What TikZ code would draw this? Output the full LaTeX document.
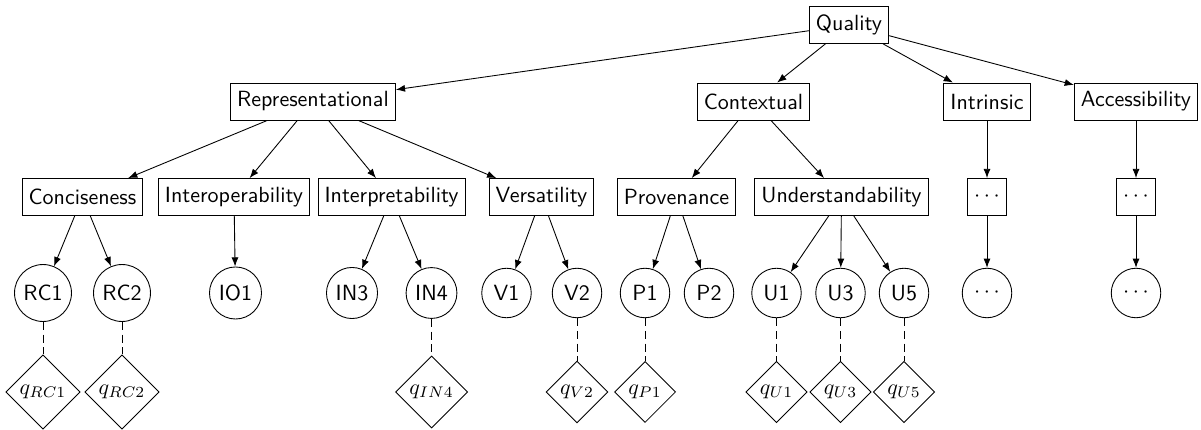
\documentclass[tikz,border=0pt]{standalone}
\usetikzlibrary{shapes.geometric,arrows.meta}
\begin{document}
\begin{tikzpicture}[x=0.4545pt, y=-0.4545pt, font=\sffamily,
  catbox/.style={draw, rectangle, minimum height=16.8pt, inner sep=3pt},
  metric/.style={draw, circle, inner sep=2.5pt, minimum size=22.5pt},
  query/.style={draw, diamond, aspect=1, inner sep=1.6pt},
  arr/.style={-{Latex[length=4.2pt,width=3.2pt]}},
  link/.style={dash pattern=on 3.6pt off 2.2pt}]
\useasboundingbox (0,0) rectangle (1201,430);

% root and dimensions
\node[catbox] (quality) at (849,25) {Quality};
\node[catbox] (repr) at (313,101.5) {Representational};
\node[catbox] (ctx)  at (753.5,101.5) {Contextual};
\node[catbox] (intr) at (987,101.5) {Intrinsic};
\node[catbox] (acc)  at (1136,101.5) {Accessibility};

% categories
\node[catbox] (conc) at (82.5,197) {Conciseness};
\node[catbox] (inop) at (234,197) {Interoperability};
\node[catbox] (inpr) at (391.5,197) {Interpretability};
\node[catbox] (vers) at (541.5,197) {Versatility};
\node[catbox] (prov) at (676.5,197) {Provenance};
\node[catbox] (und)  at (841.5,197) {Understandability};
\node[catbox] (intrdots) at (987,197) {$\cdots$};
\node[catbox] (accdots)  at (1136,197) {$\cdots$};

% metrics
\node[metric] (rc1) at (43,293) {RC1};
\node[metric] (rc2) at (122,293) {RC2};
\node[metric] (io1) at (235.5,293) {IO1};
\node[metric] (in3) at (352,293) {IN3};
\node[metric] (in4) at (431.5,293) {IN4};
\node[metric] (v1)  at (506.5,293) {V1};
\node[metric] (v2)  at (577,293) {V2};
\node[metric] (p1)  at (645,293) {P1};
\node[metric] (p2)  at (709,293) {P2};
\node[metric] (u1)  at (776.5,293) {U1};
\node[metric] (u3)  at (840.5,293) {U3};
\node[metric] (u5)  at (904,293) {U5};
\node[metric] (intrm) at (987,293) {$\cdots$};
\node[metric] (accm)  at (1136,293) {$\cdots$};

% queries
\node[query] (qrc1) at (43,392) {$q_{RC1}$};
\node[query] (qrc2) at (122,392) {$q_{RC2}$};
\node[query] (qin4) at (431.5,392) {$q_{IN4}$};
\node[query] (qv2)  at (577,392) {$q_{V2}$};
\node[query] (qp1)  at (645,392) {$q_{P1}$};
\node[query] (qu1)  at (776.5,392) {$q_{U1}$};
\node[query] (qu3)  at (840.5,392) {$q_{U3}$};
\node[query] (qu5)  at (904,392) {$q_{U5}$};

% tree edges
\foreach \a/\b in {quality/repr, quality/ctx, quality/intr, quality/acc,
  repr/conc, repr/inop, repr/inpr, repr/vers, ctx/prov, ctx/und,
  intr/intrdots, acc/accdots,
  conc/rc1, conc/rc2, inop/io1, inpr/in3, inpr/in4, vers/v1, vers/v2,
  prov/p1, prov/p2, und/u1, und/u3, und/u5, intrdots/intrm, accdots/accm}
  \draw[arr] (\a) -- (\b);

% metric to query links
\foreach \a/\b in {rc1/qrc1, rc2/qrc2, in4/qin4, v2/qv2, p1/qp1,
  u1/qu1, u3/qu3, u5/qu5}
  \draw[link] (\a) -- (\b);
\end{tikzpicture}
\end{document}
